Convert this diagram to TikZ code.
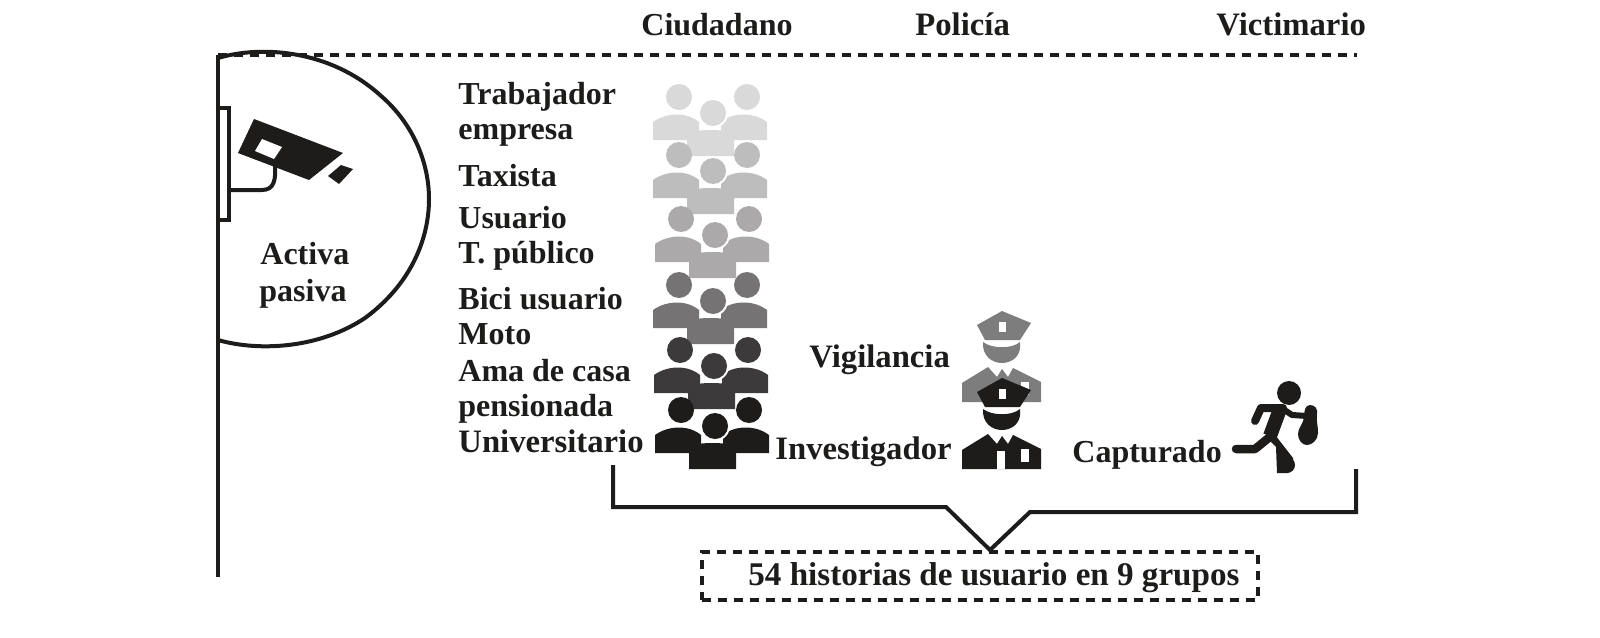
\documentclass[tikz,border=0pt]{standalone}
\usepackage{fontspec}
\setmainfont{Liberation Serif}
\definecolor{tonoa}{RGB}{217,217,217}
\definecolor{tonob}{RGB}{189,189,189}
\definecolor{tonoc}{RGB}{171,169,169}
\definecolor{tonod}{RGB}{118,115,116}
\definecolor{tonoe}{RGB}{60,58,58}
\definecolor{tonof}{RGB}{29,28,27}
\definecolor{tinta}{RGB}{29,28,27}
\definecolor{gorra}{RGB}{125,125,125}
\tikzset{
  etiqueta/.style={anchor=base west,inner sep=0pt,font=\fontsize{16}{18}\bfseries\selectfont,text=tinta},
  ancha/.style={etiqueta,font=\fontsize{16.35}{18}\bfseries\selectfont},
  linea/.style={draw=tinta,line width=2pt},
  puntos/.style={draw=tinta,line width=2pt,dash pattern=on 4.5pt off 3.5pt},
  extremidad/.style={draw=tinta,line width=4pt,line cap=round,line join=round}
}
% one group of three people, left head at (0,0)
\newcommand{\grupo}[3]{
\begin{scope}[shift={(#1,#2)}]
\fill [#3] (0,0) circle (13);
\fill [#3] (68,0) circle (13);
\fill [#3] (-26,43) -- (-26,25) .. controls (-12,15) and (8,15) .. (20,25) -- (20,43) -- cycle;
\fill [#3] (42,25) .. controls (54,15) and (75,15) .. (88,25) -- (88,43) -- (42,43) -- cycle;
\fill [white] (34,16) circle (15);
\fill [#3] (34,16) circle (13);
\fill [#3] (8,59) -- (8,36) .. controls (20,32) and (43,32) .. (55,36) -- (55,59) -- cycle;
\end{scope}
}
% one officer, hat on top of the body
\newcommand{\agente}[2]{
\begin{scope}[shift={(0,#1)}]
\fill [#2] (962,383) -- (988,367) -- (997,377) -- (1002,369) -- (1008,377) -- (1013,368) -- (1041,382) -- (1041,402) -- (962,402) -- cycle;
\fill [white] (997,384) rectangle (1005,402);
\fill [white] (1021,382) rectangle (1029,395);
\fill [#2] (977,325) -- (1002,311) -- (1031,323) -- (1020,340) -- (985,340) -- cycle;
\fill [white] (999,322) rectangle (1006,332);
\fill [#2] (983,342) .. controls (992,349) and (1012,349) .. (1020,342) .. controls (1022,356) and (1012,363) .. (1002,363) .. controls (992,363) and (982,356) .. (983,342) -- cycle;
\end{scope}
}
\begin{document}
\begin{tikzpicture}[x=0.5pt,y=-0.5pt]
\useasboundingbox (0,0) rectangle (1600,637);
\fill [white] (0,0) rectangle (1600,637);
% camera half circle
\coordinate (pared) at (218,55);
\coordinate (paredfin) at (218,577);
\coordinate (rayado) at (1357,55);
\draw [linea] (pared) -- (paredfin);
\draw [puntos] (pared) -- (rayado);
\draw [linea] (218,58) .. controls (262,45) and (330,50) .. (380,95) .. controls (415,125) and (429,165) .. (429,199) .. controls (429,240) and (410,285) .. (365,318) .. controls (320,348) and (260,352) .. (218,340);
\draw [linea] (218,108) rectangle (229,220);
\fill [tinta] (254,119) -- (343,153) -- (309,180) -- (238,153) -- cycle;
\fill [white] (262,139) -- (282,147) -- (274,159) -- (255,151) -- cycle;
\fill [tinta] (341,165) -- (353,169) -- (339,184) -- (328,176) -- cycle;
\draw [linea] (275,165) .. controls (276,180) and (274,190) .. (262,190) -- (230,190);
% groups of people
\grupo{679}{97}{tonoa}
\grupo{679}{155}{tonob}
\grupo{681}{219}{tonoc}
\grupo{679}{285}{tonod}
\grupo{680}{350}{tonoe}
\grupo{681}{410}{tonof}
% officers
\agente{0}{gorra}
\agente{67}{tonof}
% runner
\fill [tinta] (1289,393) circle (12);
\draw [extremidad] (1255,421) -- (1261,408) -- (1283,408);
\draw [extremidad,line width=3pt] (1283,409) -- (1292,415) -- (1307,416);
\draw [extremidad,line width=7pt,line cap=butt] (1280,409) -- (1270,436);
\draw [extremidad,line width=4.25pt] (1271,436) -- (1255,449) -- (1236,449);
\fill [tinta] (1272,431) -- (1293,458) -- (1294,466) -- (1288,473) -- (1277,473) -- (1276,447) -- (1266,437) -- cycle;
\fill [tinta] (1287,465) circle (8);
\fill [tinta] (1310,405) .. controls (1315,405) and (1318,409) .. (1317,414) .. controls (1316,420) and (1318,425) .. (1318,433) .. controls (1318,440) and (1312,445) .. (1307,445) .. controls (1302,445) and (1298,440) .. (1298,434) .. controls (1298,428) and (1303,424) .. (1304,418) .. controls (1304,411) and (1305,405) .. (1310,405) -- cycle;
% labels
\node [etiqueta] (ciudadano) at (641,35) {Ciudadano};
\node [ancha] (policia) at (915,35) {Policía};
\node [ancha] (victimario) at (1216,35) {Victimario};
\node [etiqueta] (trabajador) at (458,104) {Trabajador};
\node [etiqueta] (empresa) at (458,139) {empresa};
\node [etiqueta] (taxista) at (458,186) {Taxista};
\node [etiqueta] (usuario) at (458,228) {Usuario};
\node [etiqueta] (publico) at (458,263) {T. público};
\node [etiqueta] (bici) at (458,309) {Bici usuario};
\node [etiqueta] (moto) at (458,344) {Moto};
\node [etiqueta] (ama) at (458,381) {Ama de casa};
\node [etiqueta] (pensionada) at (458,416) {pensionada};
\node [ancha] (universitario) at (458,452) {Universitario};
\node [etiqueta] (activa) at (260,264) {Activa};
\node [etiqueta] (pasiva) at (259,301) {pasiva};
\node [ancha] (vigilancia) at (809,367) {Vigilancia};
\node [ancha] (investigador) at (775,459) {Investigador};
\node [etiqueta] (capturado) at (1072,462) {Capturado};
% summary box and bracket
\node [puntos,draw,anchor=north west,minimum width=278pt,minimum height=24pt,inner sep=0pt] (caja) at (700,550) {};
\node [etiqueta,font=\fontsize{16.55}{18}\bfseries\selectfont] (historias) at (748,585) {54 historias de usuario en 9 grupos};
\coordinate (llavea) at (613,465);
\coordinate (llaveb) at (1356,469);
\draw [linea] (llavea) |- (946,507) -- (caja.north -| 990,551) -- (1030,512) -| (llaveb);
\end{tikzpicture}
\end{document}
